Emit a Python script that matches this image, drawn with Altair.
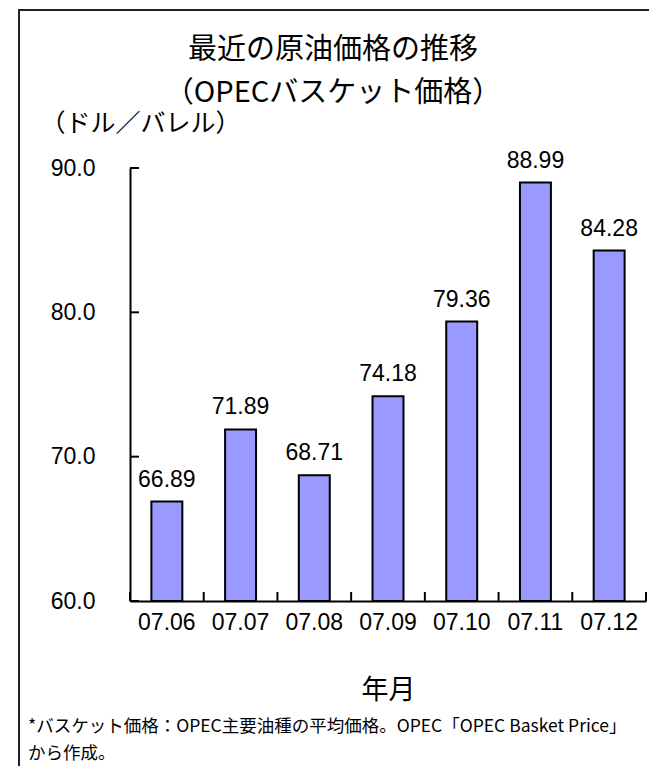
import altair as alt
import pandas as pd

# ---- data ----
months = ["07.06", "07.07", "07.08", "07.09", "07.10", "07.11", "07.12"]
prices = [66.89, 71.89, 68.71, 74.18, 79.36, 88.99, 84.28]
y_ticks = [60, 70, 80, 90]
y_base = 60
title_lines = ["最近の原油価格の推移", "（OPECバスケット価格）"]
unit_label = "（ドル／バレル）"
x_title = "年月"
footnote_lines = [
    "*バスケット価格：OPEC主要油種の平均価格。OPEC「OPEC Basket Price」",
    "から作成。",
]

df = pd.DataFrame({"month": months, "price": prices})
ticks_df = pd.DataFrame({"v": y_ticks})
one = pd.DataFrame({"a": [0]})

W, H = 516, 433
JP = "Noto Sans CJK JP"
NUM = "Liberation Sans"

xscale = alt.Scale(domain=months, paddingInner=0, paddingOuter=0)
yscale = alt.Scale(domain=[60, 90], nice=False, zero=False)

base = alt.Chart(df)

bars = base.mark_bar(
    width=alt.RelativeBandSize(0.42), color="#9999FF", stroke="black", strokeWidth=2
).encode(
    x=alt.X(
        "month:N",
        scale=xscale,
        sort=months,
        axis=alt.Axis(
            title=x_title,
            labelAngle=0,
            labelFont=NUM,
            labelFontSize=23,
            labelColor="black",
            labelPadding=10,
            ticks=False,
            tickSize=0,
            domainColor="black",
            domainWidth=2,
            titleFont=JP,
            titleFontSize=27,
            titleFontWeight="normal",
            titleColor="black",
            titlePadding=43,
        ),
    ),
    y=alt.Y(
        "price:Q",
        scale=yscale,
        axis=alt.Axis(
            values=y_ticks,
            format=".1f",
            grid=False,
            ticks=False,
            tickSize=0,
            labelFont=NUM,
            labelFontSize=23,
            labelColor="black",
            labelPadding=35,
            domainColor="black",
            domainWidth=2,
            title=unit_label,
            titleFont=JP,
            titleFontSize=25,
            titleFontWeight="normal",
            titleColor="black",
            titleAngle=0,
            titleAlign="left",
            titleBaseline="middle",
            titleX=-90,
            titleY=-45,
        ),
    ),
    y2=alt.datum(y_base),
)

labels = base.mark_text(
    font=NUM, fontSize=23, color="black", baseline="middle", dy=-22
).encode(
    x=alt.X("month:N", scale=xscale, sort=months),
    y=alt.Y("price:Q", scale=yscale),
    text=alt.Text("price:Q", format=".2f"),
)

ytick_rules = alt.Chart(ticks_df).mark_rule(color="black", strokeWidth=2).encode(
    y=alt.Y("v:Q", scale=yscale),
    x=alt.value(0),
    x2=alt.value(9),
)

xtick_rules = base.mark_rule(color="black", strokeWidth=2).encode(
    x=alt.X("month:N", scale=xscale, sort=months, bandPosition=0),
    y=alt.value(H),
    y2=alt.value(H - 9),
)

xtick_end = alt.Chart(one).mark_rule(color="black", strokeWidth=2).encode(
    x=alt.value(W), y=alt.value(H), y2=alt.value(H - 9)
)

title_text = alt.Chart(one).mark_text(
    font=JP, fontSize=29, color="black", align="center", baseline="middle",
    lineBreak="\n", lineHeight=43,
).encode(
    x=alt.value(203), y=alt.value(-118), text=alt.value("\n".join(title_lines))
)

foot_text = alt.Chart(one).mark_text(
    font=JP, fontSize=17.5, color="black", align="left", baseline="middle",
    lineBreak="\n", lineHeight=27,
).encode(
    x=alt.value(-102), y=alt.value(559), text=alt.value("\n".join(footnote_lines))
)

frame = alt.Chart(one).mark_rect(
    filled=False, stroke="#222222", strokeWidth=2
).encode(
    x=alt.value(-111), x2=alt.value(700), y=alt.value(-158), y2=alt.value(700)
)

chart = alt.layer(
    frame, bars, labels, ytick_rules, xtick_rules, xtick_end, title_text, foot_text
).properties(
    width=W,
    height=H,
    autosize=alt.AutoSizeParams(type="none"),
    padding={"left": 122, "top": 160, "right": 3, "bottom": 165},
    background="white",
).configure_view(stroke=None)

chart.save("out.html", embed_options={"renderer": "svg", "actions": False})
